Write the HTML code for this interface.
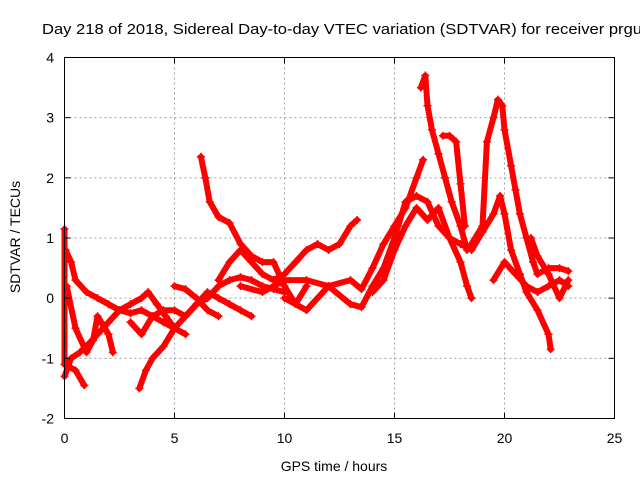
<!DOCTYPE html>
<html><head><meta charset="utf-8"><style>
body{margin:0;background:#fff}
svg{display:block;font-family:"Liberation Sans",sans-serif}
</style></head><body>
<svg id="chart" width="640" height="480" viewBox="0 0 640 480">
<rect width="640" height="480" fill="#fff"/>
<g id="grid"></g>
<g id="series"></g>
<rect x="64.5" y="57.5" width="550" height="361" fill="none" stroke="#000" stroke-width="1"/>
<g id="ticks"></g>
<text x="42" y="34" font-size="15" textLength="600" lengthAdjust="spacingAndGlyphs">Day 218 of 2018, Sidereal Day-to-day VTEC variation (SDTVAR) for receiver prgu</text>
<text transform="translate(20,237) rotate(-90)" text-anchor="middle" font-size="14">SDTVAR / TECUs</text>
<text x="334" y="471" text-anchor="middle" font-size="14">GPS time / hours</text>
</svg>
<script>
const xTicks=[0,5,10,15,20,25];
const yTicks=[-2,-1,0,1,2,3,4];
const track1=[[0.05,0.8],[0.3,0.6],[0.5,0.3],[1,0.1],[1.5,0],[2,-0.1],[2.5,-0.2],[3,-0.25],[3.5,-0.2],[4,-0.3],[4.5,-0.4],[5,-0.5],[5.5,-0.6]];
const track2=[[0,-1.3],[0.3,-1.0],[0.7,-0.9],[1,-0.8],[1.5,-0.6],[2,-0.4],[2.5,-0.2],[3,-0.1],[3.5,0],[3.8,0.1],[4.2,-0.1],[4.6,-0.3],[5,-0.5]];
const track3=[[0,1.15],[0,-1.1],[0.5,-1.2],[0.9,-1.45]];
const track4=[[0.1,0.2],[0.5,-0.5],[1,-0.9],[1.3,-0.7],[1.5,-0.3],[2,-0.6],[2.2,-0.9]];
const track5=[[3.4,-1.5],[3.7,-1.2],[4,-1.0],[4.5,-0.8],[5,-0.5],[5.5,-0.3],[6,-0.1],[6.5,0],[7,0.2],[7.5,0.3],[8,0.35],[8.5,0.3],[9,0.2],[9.5,0.15],[10,0.1]];
const track6=[[3,-0.4],[3.5,-0.6],[4,-0.3],[4.5,-0.2],[5,-0.2],[5.5,-0.3],[6,-0.1],[6.5,0.1],[7,0],[7.5,-0.1],[8,-0.2],[8.5,-0.3]];
const track7=[[5,0.2],[5.5,0.15],[6,0],[6.5,-0.2],[7,-0.3]];
const track8=[[6.2,2.35],[6.4,2.0],[6.6,1.6],[7,1.35],[7.5,1.25],[8,0.9],[8.5,0.7],[9,0.6],[9.5,0.6],[10,0.2],[10.5,-0.1],[11,0.2]];
const track9=[[7,0.3],[7.5,0.6],[8,0.8],[8.5,0.6],[9,0.4],[9.5,0.3],[10,0.4],[10.5,0.6],[11,0.8],[11.5,0.9],[12,0.8],[12.5,0.9],[13,1.2],[13.3,1.3]];
const track10=[[8,0.2],[9,0.1],[10,0.3],[11,0.3],[12,0.2],[13,0.3],[13.5,0.15],[14,0.5],[14.5,0.9],[15,1.2],[15.5,1.5],[16,2.0],[16.3,2.3]];
const track11=[[10,0.0],[11,-0.2],[12,0.2],[13,-0.1],[13.5,-0.15],[14,0.2],[14.5,0.5],[15,1.0],[15.5,1.6],[16,1.7],[16.5,1.6],[17,1.2],[17.5,1.0],[18,0.6],[18.3,0.2],[18.5,0]];
const track12=[[14,0.1],[14.5,0.3],[15,0.8],[15.5,1.2],[16,1.5],[16.5,1.3],[17,1.5],[17.5,1.0],[18,0.9],[18.5,0.8],[19,1.1],[19.5,1.4],[19.8,1.7],[20,1.4],[20.3,0.8],[20.7,0.4],[21,0.1],[21.5,-0.2],[22,-0.6],[22.1,-0.85]];
const track13=[[16.2,3.5],[16.4,3.7],[16.5,3.2],[16.7,2.8],[17,2.4],[17.3,2.0],[17.6,1.6],[18,1.2],[18.3,0.8]];
const track14=[[17.2,2.7],[17.5,2.7],[17.8,2.6],[18,1.9],[18.2,1.2]];
const track15=[[18.5,0.9],[19,1.2],[19.2,2.6],[19.5,3.0],[19.7,3.3],[19.9,3.2],[20,2.8],[20.3,2.2],[20.5,1.8],[20.7,1.4],[21,1.0],[21.3,0.6],[21.5,0.4],[22,0.5],[22.5,0.5],[22.9,0.45]];
const track16=[[19.5,0.3],[20,0.6],[20.5,0.4],[21,0.2],[21.5,0.1],[22,0.2],[22.5,0.3],[22.9,0.2]];
const track17=[[21.2,1.0],[21.5,0.7],[22,0.4],[22.5,0.0],[22.9,0.3]];
const tracks=[track1,track2,track3,track4,track5,track6,track7,track8,track9,track10,track11,track12,track13,track14,track15,track16,track17];

const X0=64.5,X1=614.5,Y0=418.5,Y1=57.5;
function xs(v){return X0+(v-0)/(25-0)*(X1-X0);}
function ys(v){return Y0-(v-(-2))/(4-(-2))*(Y0-Y1);}
const NS="http://www.w3.org/2000/svg";
function mk(t,a,p){const e=document.createElementNS(NS,t);for(const k in a)e.setAttribute(k,a[k]);p.appendChild(e);return e;}
const grid=document.getElementById('grid'),ticks=document.getElementById('ticks'),ser=document.getElementById('series');
xTicks.forEach(t=>{
  const x=xs(t);
  if(t>0&&t<25){const g=mk('line',{x1:x,x2:x,y1:Y1,y2:Y0,stroke:'#a0a0a0','stroke-dasharray':'2,3'},grid);
  
  }
  mk('line',{x1:x,x2:x,y1:Y0,y2:Y0-6,stroke:'#000'},ticks);
  mk('line',{x1:x,x2:x,y1:Y1,y2:Y1+6,stroke:'#000'},ticks);
  const l=mk('text',{x:x,y:443,'text-anchor':'middle','font-size':'14'},ticks);l.textContent=t;
  
  
});
yTicks.forEach(t=>{
  const y=ys(t);
  if(t>-2&&t<4){const g=mk('line',{x1:X0,x2:X1,y1:y,y2:y,stroke:'#a0a0a0','stroke-dasharray':'2,3'},grid);
  
  }
  mk('line',{x1:X0,x2:X0+6,y1:y,y2:y,stroke:'#000'},ticks);
  mk('line',{x1:X1,x2:X1-6,y1:y,y2:y,stroke:'#000'},ticks);
  const l=mk('text',{x:54,y:y+5,'text-anchor':'end','font-size':'14'},ticks);l.textContent=t;
  
  
});
tracks.forEach((tr,i)=>{
  const pts=tr.map(p=>xs(p[0])+','+ys(p[1])).join(' ');
  const pl=mk('polyline',{points:pts,fill:'none',stroke:'#f00','stroke-width':6,'stroke-linejoin':'round','stroke-linecap':'round'},ser);
  
  
  tr.forEach(p=>{
    const x=xs(p[0]),y=ys(p[1]);
    const m=mk('path',{d:`M${x-4},${y}H${x+4}M${x},${y-4}V${y+4}`,stroke:'#f00','stroke-width':1.5},ser);
    
    
  });
});
</script>
</body></html>
